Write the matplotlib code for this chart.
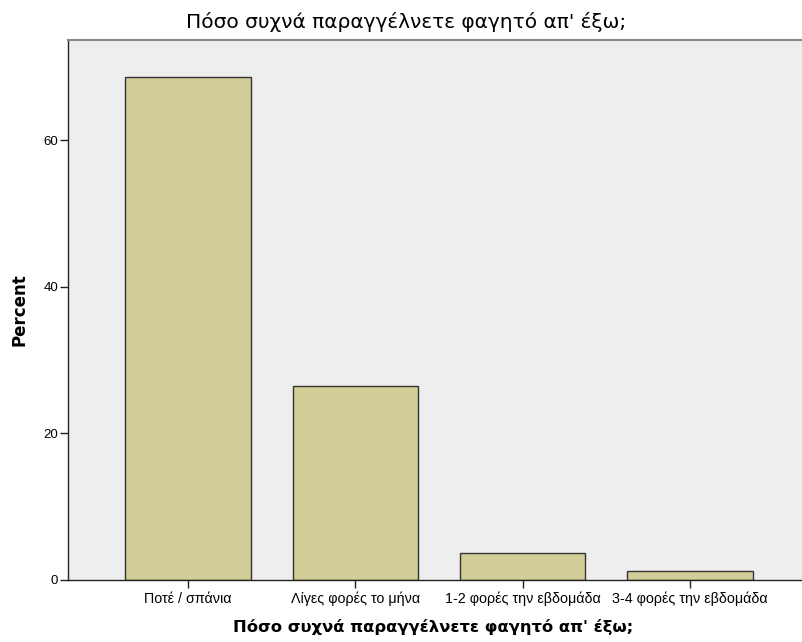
import matplotlib
matplotlib.use("Agg")
import matplotlib.pyplot as plt

categories = ["Ποτέ / σπάνια", "Λίγες φορές το μήνα", "1-2 φορές την εβδομάδα", "3-4 φορές την εβδομάδα"]
percent = [68.7, 26.5, 3.7, 1.2]
yticks = [0, 20, 40, 60]
title = "Πόσο συχνά παραγγέλνετε φαγητό απ' έξω;"

plt.rcParams['font.family'] = ['Liberation Sans', 'DejaVu Sans']

W, H = 802, 642
fig = plt.figure(figsize=(W / 100, H / 100), dpi=100)
left, right, top, bottom = 68, 810, 40, 580
ax = fig.add_axes([left / W, (H - bottom) / H, (right - left) / W, (bottom - top) / H])
ax.set_facecolor('#eeeeee')

x = list(range(len(categories)))
ax.bar(x, percent, width=0.75, color='#d3ce97', edgecolor='#333333', linewidth=1.0, zorder=2)

ax.set_xlim(-0.716, len(categories) - 1 + 0.716)
ax.set_ylim(0, 73.7)
ax.set_yticks(yticks)
ax.set_yticklabels([str(v) for v in yticks], fontsize=9.5)
ax.set_xticks(x)
ax.set_xticklabels(categories, fontsize=10.3)
ax.tick_params(axis='both', direction='out', length=5.5, width=1, color='#222222', pad=1.5)
ax.tick_params(axis='x', pad=3)

for s in ['left', 'bottom']:
    ax.spines[s].set_color('#222222')
    ax.spines[s].set_linewidth(1.0)
ax.spines['top'].set_color('#888888')
ax.spines['top'].set_linewidth(1.5)
ax.spines['right'].set_visible(False)

ax.set_ylabel("Percent", fontsize=12, fontweight='bold', family='DejaVu Sans', labelpad=11)
fig.text(406 / W, 1 - 28 / H, title, ha='center', va='baseline', fontsize=14.5, family='DejaVu Sans')
fig.text(433 / W, 1 - 632 / H, title, ha='center', va='baseline', fontsize=11.8, fontweight='bold',
         family='DejaVu Sans')

fig.savefig("out.png", dpi=100)
